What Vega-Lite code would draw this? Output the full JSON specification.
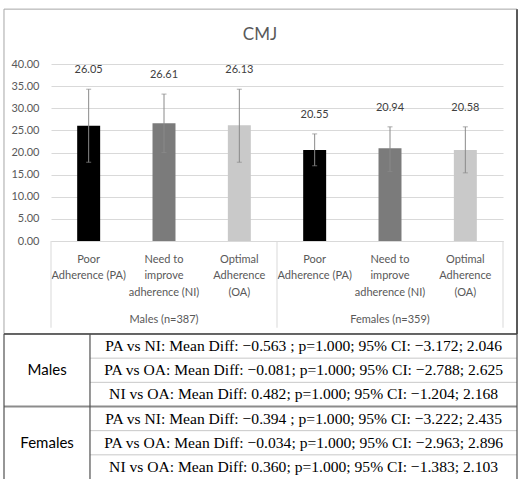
{
  "$schema": "https://vega.github.io/schema/vega-lite/v6.json",
  "width": 452,
  "height": 177,
  "autosize": {"type": "none"},
  "padding": {"left": 51, "top": 64, "right": 15, "bottom": 238},
  "background": "white",
  "config": {"view": {"stroke": null}, "font": "Lato"},
  "layer": [
    {
      "data": {"values": [
        {"cat": "M_PA", "group": "PA", "mean": 26.05, "lo": 17.8, "hi": 34.3},
        {"cat": "M_NI", "group": "NI", "mean": 26.61, "lo": 20.0, "hi": 33.2},
        {"cat": "M_OA", "group": "OA", "mean": 26.13, "lo": 17.8, "hi": 34.3},
        {"cat": "F_PA", "group": "PA", "mean": 20.55, "lo": 17.0, "hi": 24.2},
        {"cat": "F_NI", "group": "NI", "mean": 20.94, "lo": 15.7, "hi": 25.8},
        {"cat": "F_OA", "group": "OA", "mean": 20.58, "lo": 15.4, "hi": 25.8}
      ]},
      "encoding": {
        "x": {
          "field": "cat", "type": "nominal", "sort": null,
          "scale": {"domain": ["M_PA", "M_NI", "M_OA", "F_PA", "F_NI", "F_OA"], "paddingInner": 0.695, "paddingOuter": 0.3475},
          "axis": {
            "title": null, "labelAngle": 0, "ticks": false, "tickSize": 0, "grid": false,
            "domainColor": "#d9d9d9", "labelColor": "#595959", "labelFontSize": 11, "labelFont": "Lato",
            "labelPadding": 12, "labelLineHeight": 16.5, "labelOverlap": false,
            "labelExpr": "indexof(datum.value,'PA')>=0 ? ['Poor','Adherence (PA)'] : (indexof(datum.value,'NI')>=0 ? ['Need to','improve','adherence (NI)'] : ['Optimal','Adherence','(OA)'])"
          }
        }
      },
      "layer": [
        {
          "mark": {"type": "bar"},
          "encoding": {
            "y": {
              "field": "mean", "type": "quantitative",
              "scale": {"domain": [0, 40], "nice": false},
              "axis": {"title": null, "values": [0, 5, 10, 15, 20, 25, 30, 35, 40], "format": ".2f", "grid": true, "gridColor": "#d9d9d9", "domain": false, "ticks": false, "tickSize": 0, "labelPadding": 12, "labelOverlap": false, "labelColor": "#595959", "labelFontSize": 11, "labelFont": "Lato"}
            },
            "color": {"field": "group", "type": "nominal", "scale": {"domain": ["PA", "NI", "OA"], "range": ["#000000", "#7b7b7b", "#c9c9c9"]}, "legend": null}
          }
        },
        {
          "mark": {"type": "rule", "color": "#8a8a8a", "strokeWidth": 1},
          "encoding": {
            "y": {"field": "lo", "type": "quantitative", "axis": {"title": null, "values": [0, 5, 10, 15, 20, 25, 30, 35, 40], "format": ".2f", "grid": true, "gridColor": "#d9d9d9", "domain": false, "ticks": false, "tickSize": 0, "labelPadding": 12, "labelOverlap": false, "labelColor": "#595959", "labelFontSize": 11, "labelFont": "Lato"}},
            "y2": {"field": "hi"}
          }
        },
        {
          "mark": {"type": "tick", "color": "#8a8a8a", "thickness": 1, "size": 5, "orient": "horizontal"},
          "encoding": {"y": {"field": "hi", "type": "quantitative", "axis": {"title": null, "values": [0, 5, 10, 15, 20, 25, 30, 35, 40], "format": ".2f", "grid": true, "gridColor": "#d9d9d9", "domain": false, "ticks": false, "tickSize": 0, "labelPadding": 12, "labelOverlap": false, "labelColor": "#595959", "labelFontSize": 11, "labelFont": "Lato"}}}
        },
        {
          "mark": {"type": "tick", "color": "#8a8a8a", "thickness": 1, "size": 5, "orient": "horizontal"},
          "encoding": {"y": {"field": "lo", "type": "quantitative", "axis": {"title": null, "values": [0, 5, 10, 15, 20, 25, 30, 35, 40], "format": ".2f", "grid": true, "gridColor": "#d9d9d9", "domain": false, "ticks": false, "tickSize": 0, "labelPadding": 12, "labelOverlap": false, "labelColor": "#595959", "labelFontSize": 11, "labelFont": "Lato"}}}
        },
        {
          "mark": {"type": "text", "dy": -19, "fontSize": 11, "color": "#404040", "font": "Lato", "baseline": "middle"},
          "encoding": {
            "y": {"field": "hi", "type": "quantitative", "axis": {"title": null, "values": [0, 5, 10, 15, 20, 25, 30, 35, 40], "format": ".2f", "grid": true, "gridColor": "#d9d9d9", "domain": false, "ticks": false, "tickSize": 0, "labelPadding": 12, "labelOverlap": false, "labelColor": "#595959", "labelFontSize": 11, "labelFont": "Lato"}},
            "text": {"field": "mean", "type": "quantitative", "format": ".2f"}
          }
        }
      ]
    },
    {
      "encoding": {
        "x": {"field": "x", "type": "quantitative", "scale": {"domain": [0, 6], "nice": false, "zero": false}, "axis": null},
        "y": {"field": "y", "type": "quantitative", "scale": {"domain": [0, 40], "nice": false, "zero": false}, "axis": null}
      },
      "layer": [
        {
          "data": {"values": [{"x": -0.624, "x2": 6.186, "y": -21.0, "y2": 52.4}]},
          "mark": {"type": "rect", "fill": null, "stroke": "#a6a6a6", "strokeWidth": 1},
          "encoding": {"x2": {"field": "x2"}, "y2": {"field": "y2"}}
        },
        {
          "data": {"values": [{"x": 6.186, "y": -21.0, "y2": 52.4}]},
          "mark": {"type": "rule", "color": "#595959", "strokeWidth": 2},
          "encoding": {"y2": {"field": "y2"}}
        },
        {
          "data": {"values": [{"x": 0, "y": 0, "y2": -19.6}, {"x": 3, "y": 0, "y2": -19.6}, {"x": 6, "y": 0, "y2": -19.6}]},
          "mark": {"type": "rule", "color": "#d9d9d9", "strokeWidth": 1},
          "encoding": {"y2": {"field": "y2"}}
        },
        {
          "data": {"values": [{"x": 1.5, "y": -17.9, "label": "Males (n=387)"}, {"x": 4.5, "y": -17.9, "label": "Females (n=359)"}]},
          "mark": {"type": "text", "fontSize": 11, "color": "#595959", "font": "Lato", "baseline": "middle"},
          "encoding": {"text": {"field": "label"}}
        },
        {
          "data": {"values": [{"x": 2.774, "y": 46.6, "label": "CMJ"}]},
          "mark": {"type": "text", "fontSize": 17, "color": "#595959", "font": "Lato", "baseline": "middle"},
          "encoding": {"text": {"field": "label"}}
        }
      ]
    },
    {
      "encoding": {
        "x": {"field": "x", "type": "quantitative", "scale": {"domain": [0, 100], "range": [-47, 466], "nice": false, "zero": false}, "axis": null},
        "y": {"field": "y", "type": "quantitative", "scale": {"domain": [0, 6], "range": [270, 415], "nice": false, "zero": false}, "axis": null}
      },
      "layer": [
        {
          "data": {"values": [{"x": 16.76, "x2": 100, "y": 1}, {"x": 16.76, "x2": 100, "y": 2}, {"x": 16.76, "x2": 100, "y": 4}, {"x": 16.76, "x2": 100, "y": 5}]},
          "mark": {"type": "rule", "color": "#c8c8c8", "strokeWidth": 1},
          "encoding": {"x2": {"field": "x2"}}
        },
        {
          "data": {"values": [{"x": 0, "x2": 100, "y": 3}]},
          "mark": {"type": "rule", "color": "#8c8c8c", "strokeWidth": 2},
          "encoding": {"x2": {"field": "x2"}}
        },
        {
          "data": {"values": [{"x": 0, "x2": 100, "y": 0}]},
          "mark": {"type": "rule", "color": "#404040", "strokeWidth": 1.5},
          "encoding": {"x2": {"field": "x2"}}
        },
        {
          "data": {"values": [{"x": 0, "y": 0, "y2": 6}, {"x": 16.76, "y": 0, "y2": 6}, {"x": 100, "y": 0, "y2": 6}]},
          "mark": {"type": "rule", "color": "#505050", "strokeWidth": 1.2},
          "encoding": {"y2": {"field": "y2"}}
        },
        {
          "data": {"values": [{"x": 8.4, "y": 1.5, "label": "Males"}, {"x": 8.4, "y": 4.5, "label": "Females"}]},
          "mark": {"type": "text", "fontSize": 15, "color": "#000000", "font": "Lato", "baseline": "middle"},
          "encoding": {"text": {"field": "label"}}
        },
        {
          "data": {"values": [
            {"x": 58.4, "y": 0.5, "label": "PA vs NI: Mean Diff: −0.563 ; p=1.000; 95% CI: −3.172; 2.046"},
            {"x": 58.4, "y": 1.5, "label": "PA vs OA: Mean Diff: −0.081; p=1.000; 95% CI: −2.788; 2.625"},
            {"x": 58.4, "y": 2.5, "label": "NI vs OA: Mean Diff: 0.482; p=1.000; 95% CI: −1.204; 2.168"},
            {"x": 58.4, "y": 3.5, "label": "PA vs NI: Mean Diff: −0.394 ; p=1.000; 95% CI: −3.222; 2.435"},
            {"x": 58.4, "y": 4.5, "label": "PA vs OA: Mean Diff: −0.034; p=1.000; 95% CI: −2.963; 2.896"},
            {"x": 58.4, "y": 5.5, "label": "NI vs OA: Mean Diff: 0.360; p=1.000; 95% CI: −1.383; 2.103"}
          ]},
          "mark": {"type": "text", "fontSize": 15.6, "color": "#000000", "font": "Liberation Serif", "baseline": "middle"},
          "encoding": {"text": {"field": "label"}}
        }
      ]
    }
  ],
  "resolve": {"scale": {"x": "independent", "y": "independent"}}
}
